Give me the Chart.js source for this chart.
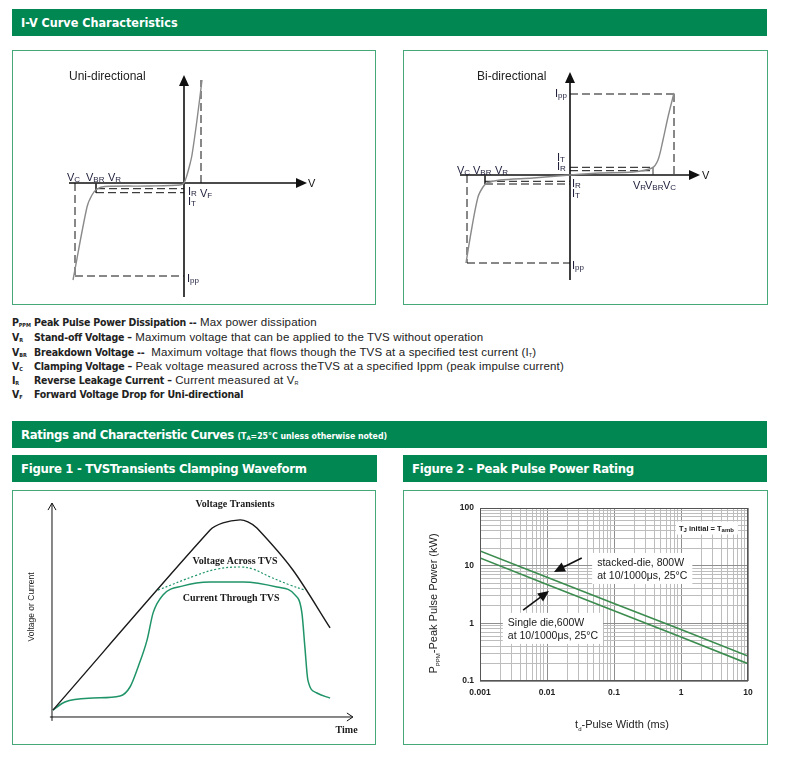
<!DOCTYPE html>
<html>
<head>
<meta charset="utf-8">
<title>TVS I-V Characteristics</title>
<script src="https://cdn.jsdelivr.net/npm/chart.js@4.4.1/dist/chart.umd.min.js"></script>
<style>
html, body { margin: 0; padding: 0; background: #fff; }
body { position: relative; width: 785px; height: 770px; overflow: hidden; font-family: "Liberation Sans", Arial, sans-serif; color: #222; }
.bar { position: absolute; height: 27px; line-height: 27px; background: #008752; color: #fff; padding-left: 9px; box-sizing: border-box; white-space: nowrap;
       font-family: "Liberation Sans Narrow", "DejaVu Sans Condensed", "Arial Narrow", sans-serif; font-weight: bold; }
.bar .note { font-size: 8.7px; letter-spacing: 0; }
.bar sub { font-size: 6px; vertical-align: -1px; line-height: 0; }
.panel { position: absolute; border: 1px solid #46a878; box-sizing: border-box; }
.panel canvas { position: absolute; left: 0; top: 0; }
.def { position: absolute; left: 12px; height: 14px; line-height: 14px; font-size: 11.5px; letter-spacing: 0.15px; white-space: nowrap; }
.def .sym { display: inline-block; width: 22px; }
.def b, .def .sym { font-family: "Liberation Sans Narrow", "DejaVu Sans Condensed", sans-serif; font-weight: bold; font-size: 10.5px; letter-spacing: -0.2px; }
.def sub { font-size: 5.5px; vertical-align: -1px; line-height: 0; letter-spacing: 0; }
</style>
</head>
<body>

<div class="bar" style="left:12px;top:9px;width:755px;font-size:12.5px;">I-V Curve Characteristics</div>
<div class="panel" style="left:12px;top:50px;width:364px;height:255px;"><canvas id="uni" width="362" height="253"></canvas></div>
<div class="panel" style="left:403px;top:50px;width:365px;height:255px;"><canvas id="bi" width="363" height="253"></canvas></div>

<div class="def" style="top:315px"><span class="sym">P<sub>PPM</sub></span><b>Peak Pulse Power Dissipation --</b> Max power dissipation</div>
<div class="def" style="top:330px"><span class="sym">V<sub>R</sub></span><b>Stand-off Voltage –</b> Maximum voltage that can be applied to the TVS without operation</div>
<div class="def" style="top:345px"><span class="sym">V<sub>BR</sub></span><b>Breakdown Voltage --</b>&nbsp; Maximum voltage that flows though the TVS at a specified test current (I<sub>T</sub>)</div>
<div class="def" style="top:359px"><span class="sym">V<sub>C</sub></span><b>Clamping Voltage –</b> Peak voltage measured across theTVS at a specified Ippm (peak impulse current)</div>
<div class="def" style="top:373px"><span class="sym">I<sub>R</sub></span><b>Reverse Leakage Current –</b> Current measured at V<sub>R</sub></div>
<div class="def" style="top:387px"><span class="sym">V<sub>F</sub></span><b>Forward Voltage Drop for Uni-directional</b></div>

<div class="bar" style="left:12px;top:421px;width:755px;font-size:13px;letter-spacing:-0.35px;">Ratings and Characteristic Curves <span class="note">(T<sub>A</sub>=25°C unless otherwise noted)</span></div>
<div class="bar" style="left:12px;top:455px;width:365px;font-size:13px;letter-spacing:-0.3px;">Figure 1 - TVSTransients Clamping Waveform</div>
<div class="bar" style="left:403px;top:455px;width:364px;font-size:13px;letter-spacing:-0.3px;">Figure 2 - Peak Pulse Power Rating</div>
<div class="panel" style="left:12px;top:490px;width:364px;height:255px;"><canvas id="fig1" width="362" height="253"></canvas></div>
<div class="panel" style="left:403px;top:490px;width:365px;height:255px;"><canvas id="fig2" width="363" height="253"></canvas></div>

<script>
// I-V curves, arbitrary units (voltage to the right, current upward)
const uniVolt = [-11.1, -9.7, -9.2, -8.7, -7.9, -3.4, -0.4, 0, 0.3, 0.6, 0.8, 1.3, 1.8];
const uniCurr = [-9.7, -2.4, -1.2, -0.6, -0.35, -0.3, -0.2, 0, 0.8, 1.9, 2.8, 6.3, 10.3];
const uniVc = -10.9, uniVbr = -8.8, uniVf = 1.7;
const uniIpp = -9.3, uniIr = -0.57, uniIt = -0.97, uniIf = 10.3;

const biVolt = [-10.4, -9.8, -9.2, -8.7, -8.3, -7.0, -3.7, 0, 3.0, 6.3, 8.2, 8.8, 9.3, 9.8, 10.4];
const biCurr = [-8.8, -5.2, -2.2, -1.2, -0.8, -0.5, -0.3, 0, 0.2, 0.3, 0.7, 1.5, 3.5, 5.8, 8.2];
// [negative side, positive side]
const biVc = [-10.3, 10.4], biVbr = [-8.5, 8.3];
const biIpp = [-8.8, 8.1], biIr = [-0.63, 0.43], biIt = [-0.9, 0.77];

// Figure 1 - clamping waveform (time, level)
const timeTransient = [0.3, 52.7, 57, 62.7, 65.3, 68.3, 80.3, 92.7];
const voltTransient = [2.3, 62.3, 64.7, 65.7, 65, 63, 49, 29.7];
const timeAcross = [35.3, 48.3, 55, 62.7, 67, 72.7, 79.3, 84.3];
const voltAcross = [42.3, 47.3, 49.3, 50, 49.3, 46.7, 44, 42.3];
const timeCurrent = [0.3, 4.3, 13.7, 22.7, 26, 28.7, 31.7, 33.7, 37, 43.7, 52.7, 63.7, 75, 81, 83.3, 84.3, 85.3, 88.3, 92.7];
const currThrough = [2.3, 5, 6.3, 7, 10, 16.7, 25.7, 34.7, 40.7, 43.7, 45, 45, 43.3, 40.7, 34.7, 23.3, 12.3, 8, 6.3];

// Figure 2 - peak pulse power (kW) vs pulse width (ms)
const pulseWidth = [0.001, 0.01, 0.1, 1, 10];
const stackedPower = [18, 6.3, 2.2, 0.78, 0.27];
const singlePower = [13.6, 4.7, 1.65, 0.58, 0.2];
const xTickValues = [0.001, 0.01, 0.1, 1, 10];
const xTickLabels = ['0.001', '0.01', '0.1', '1', '10'];
const yTickValues = [0.1, 1, 10, 100];
const yTickLabels = ['0.1', '1', '10', '100'];
const stackedNote = ['stacked-die, 800W', 'at 10/1000μs, 25°C'];
const singleNote = ['Single die,600W', 'at 10/1000μs, 25°C'];

const SANS = '"Liberation Sans", Arial, sans-serif';
const SERIF = '"Liberation Serif", "Times New Roman", serif';
Chart.defaults.font.family = SANS;

const zip = (xs, ys) => xs.map((v, i) => ({ x: v, y: ys[i] }));

function drawParts(ctx, parts, x, y, align) {
    let total = 0;
    parts.forEach(p => { ctx.font = p.f; p.w = ctx.measureText(p.t).width; total += p.w; });
    let cx = align === 'center' ? x - total / 2 : align === 'right' ? x - total : x;
    ctx.textAlign = 'left';
    ctx.textBaseline = 'alphabetic';
    parts.forEach(p => { ctx.font = p.f; ctx.fillText(p.t, cx, y + (p.dy || 0)); cx += p.w; });
    return total;
}

function subLabel(main, sub, size, weight) {
    const w = weight ? weight + ' ' : '';
    const parts = [{ t: main, f: w + size + 'px ' + SANS }];
    if (sub) parts.push({ t: sub, f: w + Math.round(size * 0.72) + 'px ' + SANS, dy: size * 0.12 });
    return parts;
}

function filledArrow(ctx, tx, ty, ux, uy, len, half) {
    const bx = tx - ux * len, by = ty - uy * len;
    ctx.beginPath();
    ctx.moveTo(tx, ty);
    ctx.lineTo(bx - uy * half, by + ux * half);
    ctx.lineTo(bx + uy * half, by - ux * half);
    ctx.closePath();
    ctx.fill();
}

function chevron(ctx, tx, ty, ux, uy, len, half) {
    const bx = tx - ux * len, by = ty - uy * len;
    ctx.beginPath();
    ctx.moveTo(bx - uy * half, by + ux * half);
    ctx.lineTo(tx, ty);
    ctx.lineTo(bx + uy * half, by - ux * half);
    ctx.stroke();
}

const seg = (a, b, c, d) => [a, b, c, d];

function ivChart(id, volt, curr, dashes, ticks, axisX, axisY, xr, yr, labels) {
    const datasets = [{
        data: zip(volt, curr), showLine: true, pointRadius: 0,
        borderColor: '#8a8a8a', borderWidth: 1.4, tension: 0.3
    }];
    dashes.forEach(s => datasets.push({
        data: [{ x: s[0], y: s[1] }, { x: s[2], y: s[3] }], showLine: true, pointRadius: 0,
        borderColor: '#111', borderWidth: 1, borderDash: [8, 4]
    }));
    ticks.forEach(s => datasets.push({
        data: [{ x: s[0], y: s[1] }, { x: s[2], y: s[3] }], showLine: true, pointRadius: 0,
        borderColor: '#333', borderWidth: 1
    }));

    new Chart(document.getElementById(id), {
        type: 'scatter',
        data: { datasets },
        options: {
            responsive: false, animation: false, events: [],
            layout: { padding: 0 },
            plugins: { legend: { display: false }, tooltip: { enabled: false } },
            scales: {
                x: { type: 'linear', display: false, min: xr[0], max: xr[1] },
                y: { type: 'linear', display: false, min: yr[0], max: yr[1] }
            }
        },
        plugins: [{
            id: 'ivAxes',
            beforeDatasetsDraw(chart) {
                const { ctx, scales: { x, y } } = chart;
                const x0 = x.getPixelForValue(0), y0 = y.getPixelForValue(0);
                const xl = x.getPixelForValue(axisX[0]), xe = x.getPixelForValue(axisX[1]);
                const yb = y.getPixelForValue(axisY[0]), yt = y.getPixelForValue(axisY[1]);
                ctx.save();
                ctx.strokeStyle = '#111';
                ctx.fillStyle = '#111';
                ctx.lineWidth = 1.6;
                ctx.beginPath();
                ctx.moveTo(xl, y0); ctx.lineTo(xe - 8, y0);
                ctx.moveTo(x0, yb); ctx.lineTo(x0, yt + 8);
                ctx.stroke();
                filledArrow(ctx, xe, y0, 1, 0, 11, 5);
                filledArrow(ctx, x0, yt, 0, -1, 11, 5);
                ctx.restore();
            },
            afterDatasetsDraw(chart) {
                const { ctx, scales: { x, y } } = chart;
                ctx.save();
                labels.forEach(l => {
                    ctx.fillStyle = l[4] || '#1c1c3a';
                    drawParts(ctx, subLabel(l[0], l[1], l[5] || 11), x.getPixelForValue(l[2]), y.getPixelForValue(l[3]) + 4, 'left');
                });
                ctx.restore();
            }
        }]
    });
}

// Uni-directional (1 unit = 10 px, origin placed on the canvas)
ivChart('uni', uniVolt, uniCurr,
    [seg(uniVc, 0, uniVc, uniIpp), seg(uniVc, uniIpp, 0, uniIpp),
     seg(uniVbr + 0.1, uniIr, 0, uniIr), seg(uniVbr, uniIt, 0, uniIt),
     seg(uniVf, 0, uniVf, uniIf)],
    [seg(uniVbr, 0, uniVbr, uniIt)],
    [-11.5, 12.3], [-11.4, 10.8],
    [-17.1, 19.1], [-12.1, 13.2],
    [['Uni-directional', '', -11.5, 10.7, '#222', 12],
     ['V', 'C', -11.7, 0.6], ['V', 'BR', -9.8, 0.6], ['V', 'R', -7.6, 0.6],
     ['I', 'R', 0.4, -0.8], ['V', 'F', 1.6, -1.0], ['I', 'T', 0.4, -1.8],
     ['I', 'pp', 0.3, -9.5], ['V', '', 12.4, 0, '#111']]);

// Bi-directional
ivChart('bi', biVolt, biCurr,
    [seg(0, biIpp[1], biVc[1], biIpp[1]), seg(biVc[1], biIpp[1], biVc[1], 0),
     seg(0, biIt[1], biVbr[1], biIt[1]), seg(0, biIr[1], biVbr[1], biIr[1]),
     seg(biVbr[0], biIr[0], 0, biIr[0]), seg(biVbr[0], biIt[0], 0, biIt[0]),
     seg(biVc[0], 0, biVc[0], biIpp[0]), seg(biVc[0], biIpp[0], 0, biIpp[0])],
    [seg(biVbr[1], 0, biVbr[1], biIt[1]), seg(biVbr[0], 0, biVbr[0], biIt[0])],
    [-11, 13], [-10.5, 10.3],
    [-16.6, 19.7], [-12.9, 12.4],
    [['Bi-directional', '', -9.3, 9.9, '#222', 12],
     ['I', 'pp', -1.5, 8.2], ['I', 'T', -1.3, 1.8], ['I', 'R', -1.3, 0.9],
     ['V', 'C', -11.3, 0.5], ['V', 'BR', -9.7, 0.5], ['V', 'R', -7.5, 0.5],
     ['I', 'R', 0.2, -0.8], ['I', 'T', 0.2, -1.8],
     ['V', 'R', 6.3, -1.0], ['V', 'BR', 7.5, -1.0], ['V', 'C', 9.3, -1.0],
     ['I', 'pp', 0.2, -9.0], ['V', '', 13.2, 0, '#111']]);

// Figure 1
const tvsGreen = '#1f9468';
new Chart(document.getElementById('fig1'), {
    type: 'scatter',
    data: {
        datasets: [
            { data: zip(timeTransient, voltTransient), showLine: true, pointRadius: 0, borderColor: '#1a1a1a', borderWidth: 1.4, tension: 0.3 },
            { data: zip(timeAcross, voltAcross), showLine: true, pointRadius: 0, borderColor: tvsGreen, borderWidth: 1.2, borderDash: [2, 2], tension: 0.4 },
            { data: zip(timeCurrent, currThrough), showLine: true, pointRadius: 0, borderColor: tvsGreen, borderWidth: 1.5, cubicInterpolationMode: 'monotone' }
        ]
    },
    options: {
        responsive: false, animation: false, events: [],
        layout: { padding: 0 },
        plugins: { legend: { display: false }, tooltip: { enabled: false } },
        scales: {
            x: { type: 'linear', display: false, min: -13, max: 107.67 },
            y: { type: 'linear', display: false, min: -9, max: 75.33 }
        }
    },
    plugins: [{
        id: 'fig1Axes',
        afterDatasetsDraw(chart) {
            const { ctx, scales: { x, y } } = chart;
            const x0 = x.getPixelForValue(0), y0 = y.getPixelForValue(0);
            const xe = x.getPixelForValue(100.3), yt = y.getPixelForValue(71.3);
            ctx.save();
            ctx.strokeStyle = '#111';
            ctx.lineWidth = 1;
            ctx.beginPath();
            ctx.moveTo(x0, y.getPixelForValue(-1.3)); ctx.lineTo(x0, yt);
            ctx.moveTo(x.getPixelForValue(-0.7), y0); ctx.lineTo(xe, y0);
            ctx.stroke();
            chevron(ctx, x0, yt, 0, -1, 7, 4);
            chevron(ctx, xe, y0, 1, 0, 6, 4);

            ctx.fillStyle = '#1a1a1a';
            const bold10 = 'bold 10px ' + SERIF;
            drawParts(ctx, [{ t: 'Voltage Transients', f: bold10 }], x.getPixelForValue(61), y.getPixelForValue(71) + 3.5, 'center');
            drawParts(ctx, [{ t: 'Voltage Across TVS', f: bold10 }], x.getPixelForValue(61), y.getPixelForValue(52.3) + 3.5, 'center');
            drawParts(ctx, [{ t: 'Current Through TVS', f: bold10 }], x.getPixelForValue(59.7), y.getPixelForValue(39.7) + 3.5, 'center');
            drawParts(ctx, [{ t: 'Time', f: 'bold 10px ' + SERIF }], x.getPixelForValue(98.2), y.getPixelForValue(-4.3) + 3.5, 'center');

            ctx.translate(x.getPixelForValue(-7), y.getPixelForValue(36.7));
            ctx.rotate(-Math.PI / 2);
            drawParts(ctx, [{ t: 'Voltage or Current', f: '8.5px ' + SANS }], 0, 3, 'center');
            ctx.restore();
        }
    }]
});

// Figure 2
function logTicks(min, max) {
    const out = [];
    for (let d = min; d < max * 0.999; d *= 10) {
        for (let k = 1; k <= 9; k++) out.push({ value: parseFloat((d * k).toPrecision(6)), major: k === 1 });
    }
    out.push({ value: max, major: true });
    return out;
}
function tickLabel(v, values, labels) {
    const i = values.findIndex(t => Math.abs(t - v) / t < 1e-6);
    return i >= 0 ? labels[i] : '';
}
function noteBox(ctx, lines, x, y) {
    ctx.font = '10.5px ' + SANS;
    const w = Math.max(...lines.map(t => ctx.measureText(t).width));
    ctx.fillStyle = '#fff';
    ctx.fillRect(x - 5, y - 9, w + 10, 13 * (lines.length - 1) + 18);
    ctx.fillStyle = '#1a1a1a';
    lines.forEach((t, i) => drawParts(ctx, [{ t, f: '10.5px ' + SANS }], x, y + 13 * i + 4, 'left'));
}
function pointer(ctx, x1, y1, x2, y2) {
    const len = Math.hypot(x2 - x1, y2 - y1), ux = (x2 - x1) / len, uy = (y2 - y1) / len;
    ctx.beginPath();
    ctx.moveTo(x1, y1);
    ctx.lineTo(x2 - ux * 8, y2 - uy * 8);
    ctx.stroke();
    filledArrow(ctx, x2, y2, ux, uy, 11, 5);
}

const powerGreen = '#3b8c4e';
const gridColor = c => (c.tick && c.tick.major) ? '#8f8f8f' : '#bdbdbd';
new Chart(document.getElementById('fig2'), {
    type: 'scatter',
    data: {
        datasets: [
            { data: zip(pulseWidth, stackedPower), showLine: true, pointRadius: 0, borderColor: powerGreen, borderWidth: 1.6 },
            { data: zip(pulseWidth, singlePower), showLine: true, pointRadius: 0, borderColor: powerGreen, borderWidth: 1.6 }
        ]
    },
    options: {
        responsive: false, animation: false, events: [],
        layout: { padding: { left: 0, right: 19, top: 17, bottom: 0 } },
        plugins: { legend: { display: false }, tooltip: { enabled: false } },
        scales: {
            x: {
                type: 'logarithmic', min: 0.001, max: 10,
                afterFit: s => { s.height = 63; },
                afterBuildTicks: s => { s.ticks = logTicks(0.001, 10); },
                grid: { color: gridColor, lineWidth: 1, drawTicks: false },
                border: { display: false },
                ticks: { autoSkip: false, maxRotation: 0, padding: 7, color: '#222', font: { size: 8.5, weight: 'bold' },
                         callback: v => tickLabel(v, xTickValues, xTickLabels) }
            },
            y: {
                type: 'logarithmic', min: 0.1, max: 100,
                afterFit: s => { s.width = 76; },
                afterBuildTicks: s => { s.ticks = logTicks(0.1, 100); },
                grid: { color: gridColor, lineWidth: 1, drawTicks: false },
                border: { display: false },
                ticks: { autoSkip: false, padding: 6, color: '#222', font: { size: 8.5, weight: 'bold' },
                         callback: v => tickLabel(v, yTickValues, yTickLabels) }
            }
        }
    },
    plugins: [{
        id: 'fig2Notes',
        afterDatasetsDraw(chart) {
            const { ctx, chartArea: a, scales: { x, y } } = chart;
            ctx.save();
            ctx.strokeStyle = '#555';
            ctx.lineWidth = 1;
            ctx.strokeRect(Math.round(a.left) + 0.5, Math.round(a.top) + 0.5, Math.round(a.right - a.left) - 1, Math.round(a.bottom - a.top) - 1);

            noteBox(ctx, stackedNote, x.getPixelForValue(0.056), y.getPixelForValue(11.6));
            noteBox(ctx, singleNote, x.getPixelForValue(0.0026), y.getPixelForValue(1.06));

            ctx.strokeStyle = '#111';
            ctx.fillStyle = '#111';
            ctx.lineWidth = 1.6;
            pointer(ctx, x.getPixelForValue(0.033), y.getPixelForValue(13.6), x.getPixelForValue(0.0127), y.getPixelForValue(7.8));
            pointer(ctx, x.getPixelForValue(0.0044), y.getPixelForValue(1.7), x.getPixelForValue(0.0107), y.getPixelForValue(3.65));

            // T_J initial = T_amb
            const lx = x.getPixelForValue(0.93), ly = y.getPixelForValue(45);
            const f1 = 'bold 7.5px ' + SANS, f2 = 'bold 6px ' + SANS;
            const parts = [{ t: 'T', f: f1 }, { t: 'J', f: f2, dy: 1 }, { t: ' initial = T', f: f1 }, { t: 'amb', f: f2, dy: 1.5 }];
            ctx.fillStyle = '#fff';
            ctx.fillRect(lx - 3, ly - 6.5, 62, 13);
            ctx.fillStyle = '#1a1a1a';
            drawParts(ctx, parts, lx, ly + 3, 'left');

            // axis titles
            ctx.fillStyle = '#222';
            drawParts(ctx, [{ t: 't', f: '11px ' + SANS }, { t: 'd', f: '6px ' + SANS, dy: 2.5 }, { t: '-Pulse Width (ms)', f: '11px ' + SANS }],
                (a.left + a.right) / 2 + 8, a.bottom + 47, 'center');
            ctx.translate(a.left - 43, (a.top + a.bottom) / 2 + 9);
            ctx.rotate(-Math.PI / 2);
            drawParts(ctx, [{ t: 'P', f: '11px ' + SANS }, { t: 'PPM', f: '6px ' + SANS, dy: 2.5 }, { t: '-Peak Pulse Power (kW)', f: '11px ' + SANS }],
                0, 0, 'center');
            ctx.restore();
        }
    }]
});
</script>
</body>
</html>
